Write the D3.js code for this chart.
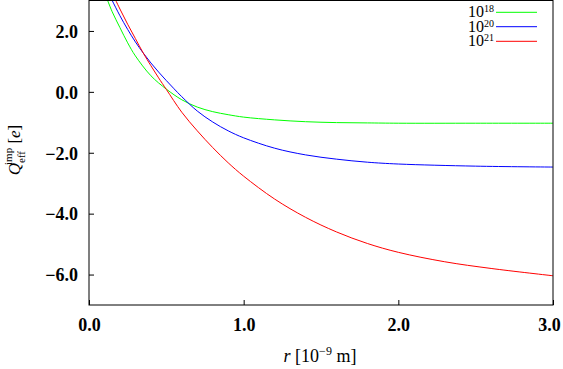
<!DOCTYPE html>
<html>
<head>
<meta charset="utf-8">
<script src="https://cdn.jsdelivr.net/npm/d3@7"></script>
<style>
  body { margin: 0; background: #fff; }
  svg { display: block; font-family: "Liberation Serif", "DejaVu Serif", serif; }
</style>
</head>
<body>
<div id="chart"></div>
<script>
// data
var seriesNames = ["18", "20", "21"];
var seriesColors = ["#00ff00", "#0000ff", "#ff0000"];

var r18 = [0.1, 0.15, 0.2, 0.25, 0.3, 0.4, 0.5, 0.6, 0.7, 0.8, 0.9, 1.0, 1.2, 1.4, 1.6, 1.8, 2.0, 2.5, 3.0];
var q18 = [3.27, 2.63, 2.11, 1.61, 1.18, 0.53, 0.09, -0.26, -0.5, -0.65, -0.75, -0.83, -0.92, -0.98, -1.01, -1.02, -1.03, -1.03, -1.03];

var r20 = [0.13, 0.15, 0.2, 0.25, 0.3, 0.35, 0.4, 0.45, 0.5, 0.55, 0.6, 0.7, 0.8, 0.9, 1.0, 1.2, 1.4, 1.6, 1.8, 2.0, 2.5, 3.0];
var q20 = [3.21, 3.0, 2.5, 2.05, 1.64, 1.28, 0.95, 0.65, 0.37, 0.1, -0.16, -0.63, -0.99, -1.28, -1.51, -1.85, -2.07, -2.21, -2.31, -2.37, -2.44, -2.47];

var r21 = [0.15, 0.2, 0.25, 0.3, 0.35, 0.4, 0.45, 0.5, 0.6, 0.7, 0.8, 0.9, 1.0, 1.2, 1.4, 1.6, 1.8, 2.0, 2.3, 2.6, 3.0];
var q21 = [3.25, 2.72, 2.22, 1.75, 1.28, 0.86, 0.46, 0.08, -0.67, -1.28, -1.83, -2.33, -2.77, -3.52, -4.12, -4.6, -4.98, -5.27, -5.58, -5.8, -6.04];

var xTicks = [0, 1, 2, 3];
var yTicks = [2, 0, -2, -4, -6];

var W = 563, H = 369;
var margin = {top: 0.5, right: 10, bottom: 64, left: 89};
var width = 553 - margin.left, height = 305 - margin.top;

var svg = d3.select("#chart").append("svg")
    .attr("width", W).attr("height", H)
  .append("g")
    .attr("transform", "translate(" + margin.left + "," + margin.top + ")");

var x = d3.scaleLinear().domain([0, 3]).range([0, width]);
var y = d3.scaleLinear().domain([-7, 3]).range([height, 0]);

// clip
svg.append("defs").append("clipPath").attr("id", "clip")
  .append("rect").attr("width", width).attr("height", height);

var series = [
  {key: "18", r: r18, q: q18},
  {key: "20", r: r20, q: q20},
  {key: "21", r: r21, q: q21}
];

var line = d3.line()
  .x(function(d) { return x(d[0]); })
  .y(function(d) { return y(d[1]); })
  .curve(d3.curveCatmullRom.alpha(0.5));

var plot = svg.append("g").attr("clip-path", "url(#clip)");
plot.selectAll("path")
  .data(series)
  .enter()
  .append("path")
    .attr("fill", "none")
    .attr("stroke-width", 1)
    .attr("stroke", function(d, i) { return seriesColors[i]; })
    .attr("d", function(d) { return line(d.r.map(function(v, i) { return [v, d.q[i]]; })); });

// frame
svg.append("rect")
  .attr("width", width).attr("height", height)
  .attr("fill", "none").attr("stroke", "#000").attr("stroke-width", 1);

// axes, ticks inward
var xAxis = svg.append("g")
  .attr("transform", "translate(0," + height + ")")
  .call(d3.axisBottom(x).tickValues(xTicks).tickSizeInner(-5).tickSizeOuter(0).tickPadding(13)
    .tickFormat(d3.format(".1f")));
var yAxis = svg.append("g")
  .call(d3.axisLeft(y).tickValues(yTicks).tickSizeInner(-5).tickSizeOuter(0).tickPadding(11)
    .tickFormat(d3.format(".1f")));

[xAxis, yAxis].forEach(function(a) {
  a.select(".domain").remove();
  a.selectAll("text")
    .style("font-family", "Liberation Serif, serif")
    .style("font-size", "18px")
    .style("font-weight", "bold")
    .attr("fill", "#000");
});
xAxis.selectAll("text").attr("dy", "0.71em")
  .attr("dx", function(d) { return d === 3 ? -4 : 0; });
yAxis.selectAll("text").attr("dy", "0.35em");

// x label
var xl = svg.append("text")
  .attr("x", 320 - margin.left)
  .attr("y", 362 - margin.top)
  .attr("text-anchor", "middle")
  .style("font-size", "18px");
xl.append("tspan").style("font-style", "italic").text("r");
xl.append("tspan").text(" [10");
xl.append("tspan").attr("dy", -7).style("font-size", "12px").text("\u22129");
xl.append("tspan").attr("dy", 7).text(" m]");

// y label
var yl = svg.append("text")
  .attr("transform", "translate(" + (20 - margin.left) + "," + (150 - margin.top) + ") rotate(-90)")
  .attr("text-anchor", "middle")
  .style("font-size", "17px");
yl.append("tspan").style("font-style", "italic").text("Q");
yl.append("tspan").attr("dy", 5).style("font-size", "11px").text("eff");
yl.append("tspan").attr("dx", -14).attr("dy", -13).style("font-size", "11px").text("imp");
yl.append("tspan").attr("dy", 8).text(" [");
yl.append("tspan").style("font-style", "italic").text("e");
yl.append("tspan").text("]");

// legend
var legY = [12.3, 26.7, 41.3];
var leg = svg.selectAll(".leg")
  .data(seriesNames)
  .enter()
  .append("g")
    .attr("class", "leg")
    .attr("transform", function(d, i) { return "translate(0," + (legY[i] - margin.top) + ")"; });
leg.append("line")
  .attr("x1", 496 - margin.left).attr("x2", 537 - margin.left)
  .attr("stroke", function(d, i) { return seriesColors[i]; })
  .attr("stroke-width", 1);
var lt = leg.append("text")
  .attr("x", 494 - margin.left)
  .attr("y", 5)
  .attr("text-anchor", "end")
  .style("font-size", "16px");
lt.append("tspan").text("10");
lt.append("tspan").attr("dy", -5).style("font-size", "10px").text(function(d) { return d; });
</script>
</body>
</html>
